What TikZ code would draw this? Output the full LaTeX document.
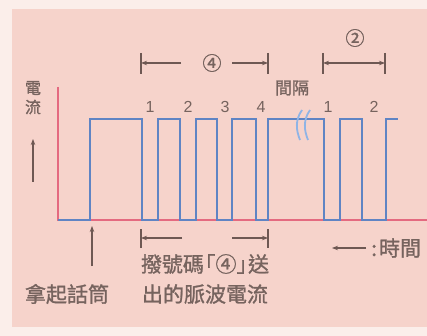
\documentclass[tikz,border=0pt]{standalone}
\usepackage{fontspec}
\newfontfamily\cjk[FakeBold=1.2]{Noto Sans CJK TC}
\setsansfont{Liberation Sans}
\usetikzlibrary{arrows.meta}
\definecolor{bg}{HTML}{F6D3CB}
\definecolor{bgedge}{HTML}{FBEEEA}
\definecolor{ink}{HTML}{76635E}
\definecolor{bar}{HTML}{6E5853}
\definecolor{sig}{HTML}{5F84C4}
\definecolor{axisred}{HTML}{E46A80}
\definecolor{gapblue}{HTML}{8FB4E6}
\tikzset{
  lbl/.style={text=ink, inner sep=0pt, font=\cjk\fontsize{21}{23}\selectfont},
  small/.style={text=ink, inner sep=0pt, font=\cjk\fontsize{16}{18}\selectfont},
  num/.style={text=ink, inner sep=0pt, font=\sffamily\fontsize{16}{18}\selectfont},
  dimbar/.style={draw=bar, line width=1.7pt},
  dimarrow/.style={draw=bar, line width=1.2pt, -{Stealth[length=6pt,width=4.5pt]}},
  sigline/.style={draw=sig, line width=1.6pt, line join=miter},
  axisline/.style={draw=axisred, line width=1.3pt}
}
\newcommand{\lbr}{\makebox[0.55em][r]{「}}
\newcommand{\rbr}{\makebox[0.55em][l]{」}}
\begin{document}
\begin{tikzpicture}[x=1pt,y=-1pt]
\useasboundingbox (0,0) rectangle (427,336);
\fill[bgedge] (0,0) rectangle (427,336);
\fill[bg] (12,9) rectangle (427,327);
% axes
\coordinate (o) at (58,220);
\coordinate (ytop) at (58,87);
\coordinate (xend) at (427,220);
\draw[axisline] (ytop) -- (o) -- (xend);
% signal
\draw[sigline] (58,220) -- (90,220) -- (90,119) -- (142,119) -- (142,220)
  -- (158,220) -- (158,119) -- (180,119) -- (180,220)
  -- (196,220) -- (196,119) -- (217,119) -- (217,220)
  -- (232,220) -- (232,119) -- (256,119) -- (256,220)
  -- (268,220) -- (268,119) -- (324,119) -- (324,220)
  -- (340,220) -- (340,119) -- (362,119) -- (362,220)
  -- (386,220) -- (386,119) -- (398,119);
% gap marks
\draw[gapblue, line width=1.8pt] (302,110) .. controls (295,120) and (296,130) .. (300,140);
\draw[gapblue, line width=1.8pt] (310,110) .. controls (303,120) and (304,130) .. (308,140);
% pulse numbers
\node[num] (n1) at (150,107) {1};
\node[num] (n2) at (188,107) {2};
\node[num] (n3) at (225,107) {3};
\node[num] (n4) at (261,107) {4};
\node[num] (m1) at (328,107) {1};
\node[num] (m2) at (374,107) {2};
% top bracket for 4
\coordinate (a1t) at (141,53); \coordinate (a1b) at (141,74);
\coordinate (a2t) at (268,53); \coordinate (a2b) at (268,74);
\draw[dimbar] (a1t) -- (a1b);
\draw[dimbar] (a2t) -- (a2b);
\coordinate (a1m) at (141,63); \coordinate (a2m) at (268,63);
\coordinate (a1e) at (181,63); \coordinate (a2s) at (232,63);
\draw[dimarrow] (a1e) -- (a1m);
\draw[dimarrow] (a2s) -- (a2m);
\node[lbl, font=\cjk\fontsize{19}{21}\selectfont] (c4) at (212,63) {④};
% top bracket for 2
\coordinate (b1t) at (323,53); \coordinate (b1b) at (323,74);
\coordinate (b2t) at (385,53); \coordinate (b2b) at (385,74);
\draw[dimbar] (b1t) -- (b1b);
\draw[dimbar] (b2t) -- (b2b);
\coordinate (b1m) at (323,63); \coordinate (b2m) at (385,63);
\coordinate (bmid) at (354,63);
\draw[dimarrow] (bmid) -- (b1m);
\draw[dimarrow] (bmid) -- (b2m);
\node[lbl, font=\cjk\fontsize{19}{21}\selectfont] (c2) at (355,38) {②};
% gap label
\node[small, font=\cjk\fontsize{17}{19}\selectfont] (gap) at (292,88) {間隔};
% bottom bracket
\coordinate (d1t) at (141,229); \coordinate (d1b) at (141,248);
\coordinate (d2t) at (268,229); \coordinate (d2b) at (268,248);
\draw[dimbar] (d1t) -- (d1b);
\draw[dimbar] (d2t) -- (d2b);
\coordinate (d1m) at (141,238); \coordinate (d2m) at (268,238);
\coordinate (d1e) at (182,238); \coordinate (d2s) at (232,238);
\draw[dimarrow] (d1e) -- (d1m);
\draw[dimarrow] (d2s) -- (d2m);
\node[lbl] (dial1) at (205,264) {撥號碼\lbr ④\rbr 送};
\node[lbl] (dial2) at (205,294) {出的脈波電流};
% pick up
\node[lbl] (pick) at (67,294) {拿起話筒};
\coordinate (pickbase) at (92,266);
\coordinate (picktip) at (92,226);
\draw[dimarrow] (pickbase) -- (picktip);
% time legend
\coordinate (tarr1) at (366,248);
\coordinate (tarr2) at (332,248);
\draw[dimarrow] (tarr1) -- (tarr2);
\node[lbl, anchor=west] (time) at (371,248) {:\hspace{2pt}時間};
% y label
\node[small] (yl1) at (33,88) {電};
\node[small] (yl2) at (33,107) {流};
\coordinate (yab) at (33,182);
\coordinate (yat) at (33,139);
\draw[dimarrow] (yab) -- (yat);
\end{tikzpicture}
\end{document}
